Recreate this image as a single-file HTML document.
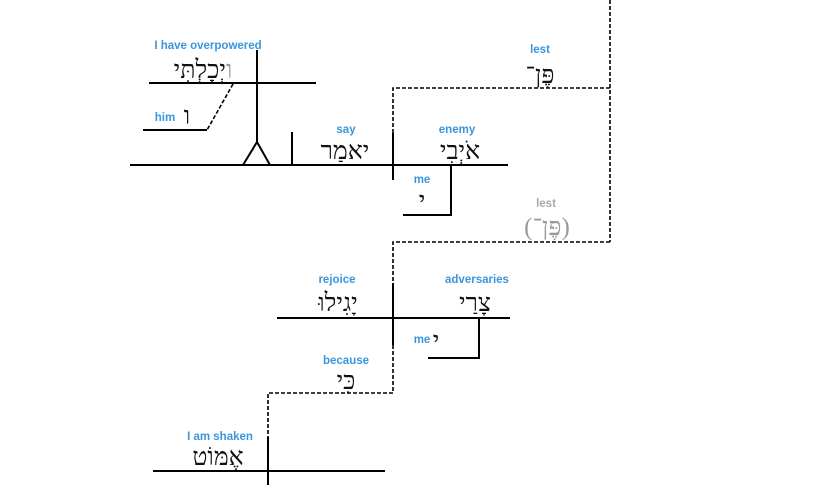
<!DOCTYPE html>
<html><head><meta charset="utf-8"><style>
html,body{margin:0;padding:0;background:#fff;}
svg{display:block;}
.l{font-family:"Liberation Sans",sans-serif;font-weight:bold;font-size:11.5px;fill:#3a96dc;}
.h{font-family:"Liberation Serif","DejaVu Serif",serif;font-size:25px;fill:#111;}
.g{fill:#999;}
</style></head><body>
<svg width="825" height="492" viewBox="0 0 825 492" xmlns="http://www.w3.org/2000/svg">
<g stroke="#000" stroke-width="2" fill="none">
<line x1="257" y1="50" x2="257" y2="143"/>
<line x1="149" y1="83" x2="316" y2="83"/>
<line x1="143" y1="130" x2="207" y2="130"/>
<polyline points="243,165 257,142 270,165"/>
<line x1="130" y1="165" x2="508" y2="165"/>
<line x1="292" y1="132" x2="292" y2="165"/>
<line x1="393" y1="133" x2="393" y2="180"/>
<polyline points="451,165 451,215 403,215"/>
<line x1="277" y1="318" x2="510" y2="318"/>
<line x1="393" y1="283" x2="393" y2="345"/>
<polyline points="479,318 479,358 428,358"/>
<line x1="153" y1="471" x2="385" y2="471"/>
<line x1="268" y1="437" x2="268" y2="485"/>
</g>
<g stroke="#000" stroke-width="1.6" fill="none" stroke-dasharray="4,2">
<line x1="233" y1="84" x2="207" y2="130"/>
<polyline points="393,133 393,88 610,88"/>
<line x1="610" y1="0" x2="610" y2="242"/>
<polyline points="610,242 393,242 393,283"/>
<polyline points="393,345 393,393 268,393 268,437"/>
</g>
<g text-anchor="middle">
<text class="l" x="208" y="49">I have overpowered</text>
<text class="h" x="203" y="78" direction="rtl"><tspan class="g">ו</tspan>יְכָלְתִּי</text>
<text class="l" x="165" y="121">him</text>
<text class="h" x="187" y="124">ו</text>
<text class="l" x="346" y="133">say</text>
<text class="h" x="345" y="159">יאמַר</text>
<text class="l" x="457" y="133">enemy</text>
<text class="h" x="460" y="159">אֹיְבִי</text>
<text class="l" x="422" y="183">me</text>
<text class="h" x="422" y="209">י</text>
<text class="l" x="540" y="53">lest</text>
<text class="h" x="540" y="83">פֶּן־</text>
<text class="l" x="546" y="207" style="fill:#aaa">lest</text>
<text class="h g" x="547" y="235">(פֶּן־)</text>
<text class="l" x="337" y="283">rejoice</text>
<text class="h" x="338" y="311">יָגִילוּ</text>
<text class="l" x="477" y="283">adversaries</text>
<text class="h" x="475" y="311">צָרַי</text>
<text class="l" x="422" y="343">me</text>
<text class="h" x="436" y="349">י</text>
<text class="l" x="346" y="364">because</text>
<text class="h" x="346" y="389">כִּי</text>
<text class="l" x="220" y="440">I am shaken</text>
<text class="h" x="218" y="465">אֶמּוֹט</text>
</g>
</svg>
</body></html>
